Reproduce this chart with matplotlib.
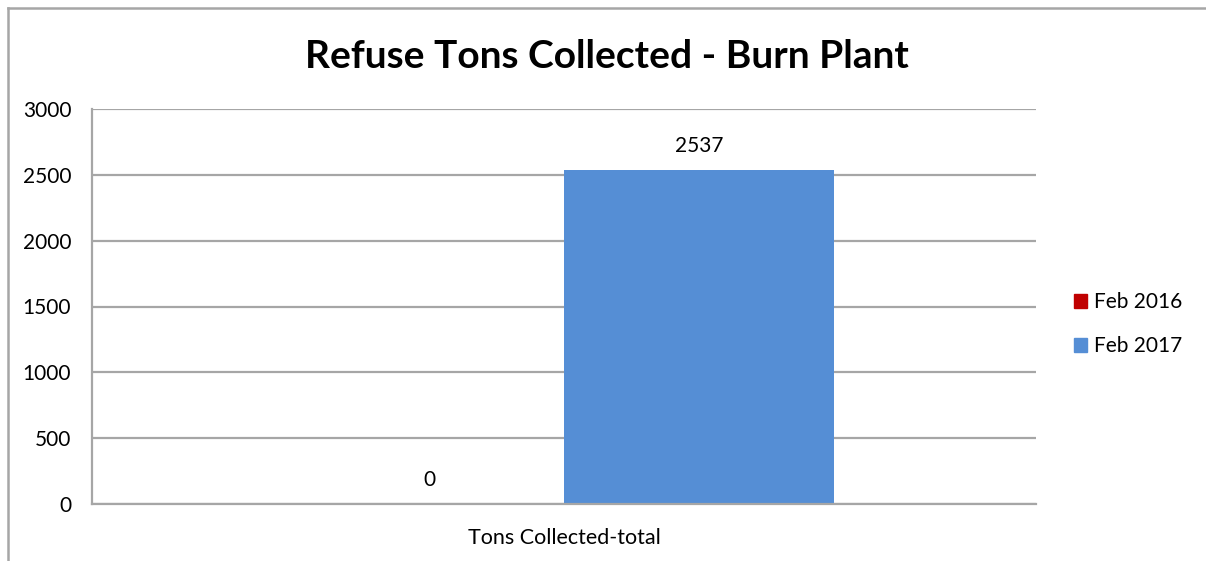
import matplotlib.pyplot as plt
from matplotlib.lines import Line2D
from matplotlib.patches import Patch

# --- DATOS ---
categorias = ['Tons Collected-total']
series = ['Feb 2016', 'Feb 2017']
valores_2016 = [0]
valores_2017 = [2537]
colores = ['#C00000', '#558ED5']

plt.rcParams['font.family'] = ['Lato', 'DejaVu Sans']

W, H = 1206, 561
fig = plt.figure(figsize=(W / 100, H / 100), dpi=100)
fig.patch.set_facecolor('white')

# area del grafico (en pixeles de la imagen)
ax = fig.add_axes([92 / W, (H - 504) / H, 944 / W, 395 / H])

ancho = 0.286
x = list(range(len(categorias)))
b1 = ax.bar([i - ancho / 2 for i in x], valores_2016, width=ancho, color=colores[0], label=series[0])
b2 = ax.bar([i + ancho / 2 for i in x], valores_2017, width=ancho, color=colores[1], label=series[1])
ax.bar_label(b1, padding=10, fontsize=15)
ax.bar_label(b2, padding=10, fontsize=15)

ax.set_xlim(-0.5, 0.5)
ax.set_ylim(0, 3000)
ax.set_yticks(range(0, 3001, 500))
ax.set_xticks(x)
ax.set_xticklabels(categorias)
ax.tick_params(axis='y', length=0, pad=15, labelsize=15)
ax.tick_params(axis='x', length=0, pad=17, labelsize=15.5)

ax.grid(True, axis='y', color='#A6A6A6', linewidth=1.6)
ax.set_axisbelow(True)
for s in ['top', 'right']:
    ax.spines[s].set_visible(False)
for s in ['left', 'bottom']:
    ax.spines[s].set_color('#A6A6A6')
    ax.spines[s].set_linewidth(1.6)

fig.text(607 / W, 1 - 56 / H, 'Refuse Tons Collected - Burn Plant',
         ha='center', va='center', fontsize=28, fontweight='bold')

handles = [Patch(color=colores[0], label=series[0]), Patch(color=colores[1], label=series[1])]
fig.legend(handles=handles, loc='center left', bbox_to_anchor=(1055 / W, 1 - 324 / H),
           frameon=False, fontsize=15, handlelength=0.65, handleheight=0.65,
           handletextpad=0.3, labelspacing=1.15)

# borde del grafico
fig.add_artist(Line2D([7.5 / W, 7.5 / W], [0, 1 - 8 / H], color='#A6A6A6', linewidth=1.8, transform=fig.transFigure))
fig.add_artist(Line2D([7.5 / W, 1], [1 - 8 / H, 1 - 8 / H], color='#A6A6A6', linewidth=1.8, transform=fig.transFigure))

fig.savefig('out.png', dpi=100)
